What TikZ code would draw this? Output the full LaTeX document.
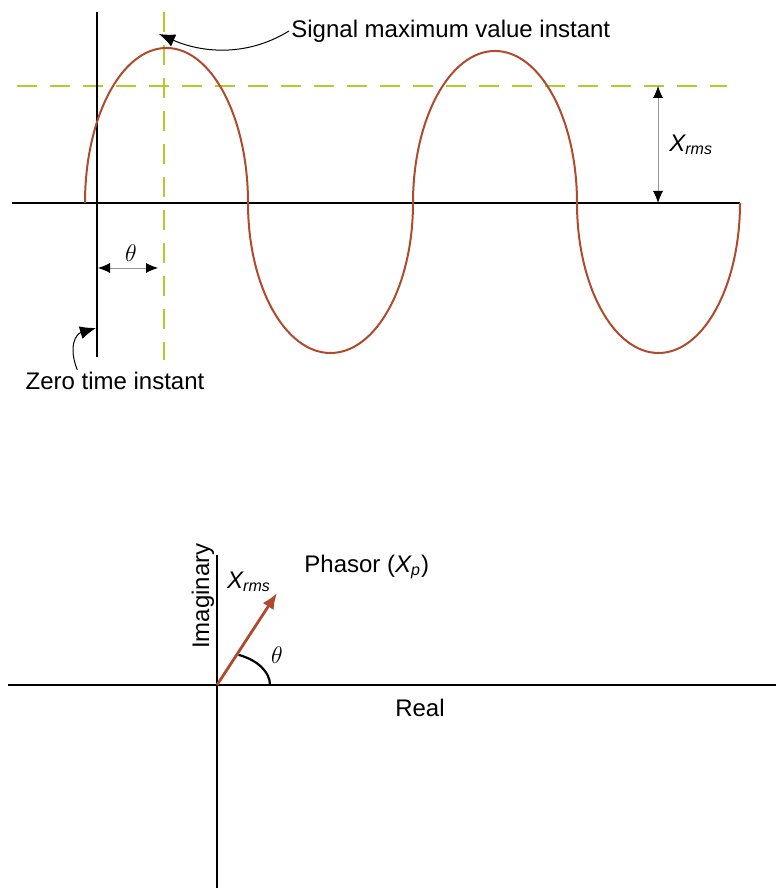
\documentclass[tikz,border=0pt]{standalone}
\usepackage{fontspec}
\setmainfont{Liberation Sans}
\usepackage{tikz}
\usetikzlibrary{arrows.meta,positioning,calc}
\definecolor{wavebrn}{RGB}{176,74,44}
\definecolor{guidegrn}{RGB}{178,204,44}
\definecolor{dimgris}{RGB}{150,150,150}
\tikzset{
  axisline/.style={draw=black, line width=1.2pt},
  waveline/.style={draw=wavebrn, line width=1pt},
  guideline/.style={draw=guidegrn, line width=1.1pt, dash pattern=on 10pt off 6.5pt},
  dimarrow/.style={{Latex[length=6pt,width=5pt,color=black]}-{Latex[length=6pt,width=5pt,color=black]}, draw=dimgris, line width=0.4pt},
  callout/.style={-{Latex[length=8pt,width=6.5pt]}, draw=black, line width=0.5pt},
  phasorarrow/.style={-{Latex[length=8pt,width=6.5pt]}, draw=wavebrn, line width=1.4pt},
  lbl/.style={inner sep=1pt, font=\fontsize{12}{14}\selectfont},
  symlbl/.style={inner sep=1pt, font=\fontsize{12}{14}\selectfont\itshape}
}

\begin{document}
\begin{tikzpicture}[x=0.5pt, y=0.5pt]
  \useasboundingbox (0,0) rectangle (776,888);

  % Time signal
  \coordinate (taxL) at (12,685);
  \coordinate (taxR) at (740,685);
  \coordinate (zeroT) at (97,876);
  \coordinate (zeroB) at (97,531);
  \coordinate (maxT) at (164,876);
  \coordinate (maxB) at (164,528);
  \coordinate (rmsL) at (17,802);
  \coordinate (rmsR) at (727,802);

  \draw[guideline] (rmsL) -- (rmsR);
  \draw[guideline] (maxT) -- (maxB);
  \draw[axisline] (taxL) -- (taxR);
  \draw[axisline] (zeroT) -- (zeroB);

  \draw[waveline] (85,685)
    arc[start angle=180, end angle=0, x radius=81.5, y radius=155]
    arc[start angle=180, end angle=360, x radius=82.5, y radius=150]
    arc[start angle=180, end angle=0, x radius=82, y radius=152]
    arc[start angle=180, end angle=360, x radius=81.5, y radius=150];

  % Dimensions
  \coordinate (xrT) at (658,802);
  \coordinate (xrB) at (658,685);
  \draw[dimarrow] (xrT) -- (xrB);
  \node[symlbl, anchor=west] (xrmsTop) at (667,743) {X\textsubscript{rms}};

  \coordinate (thL) at (98,620);
  \coordinate (thR) at (158,620);
  \draw[dimarrow] (thL) -- (thR);
  \node[lbl] (thetaTop) at (131,635) {$\theta$};

  % Callouts
  \node[lbl, anchor=west] (sigmax) at (289,857) {Signal maximum value instant};
  \coordinate (sigtip) at (159,854);
  \draw[callout] (sigmax.west) .. controls (245,830) and (200,836) .. (sigtip);

  \node[lbl] (zerot) at (115,507) {Zero time instant};
  \coordinate (zerotip) at (96,560);
  \draw[callout] ($(zerot.north west)+(54,0)$) .. controls (68,542) and (76,554) .. (zerotip);

  % Phasor plane
  \coordinate (O) at (217,203);
  \coordinate (imT) at (217,333);
  \coordinate (imB) at (217,0);
  \coordinate (reL) at (8,203);
  \coordinate (reR) at (776,203);
  \draw[axisline] (imT) -- (imB);
  \draw[axisline] (reL) -- (reR);

  \node[lbl, rotate=90] (imag) at (203,292) {Imaginary};
  \node[lbl] (real) at (420,180) {Real};

  \coordinate (ptip) at (277,295);
  \draw[phasorarrow] (O) -- (ptip);
  \draw[line width=1.1pt] ($(O)+(53,0)$) arc[start angle=0, end angle=66, x radius=53, y radius=33];
  \node[lbl] (thetaBot) at (277,233) {$\theta$};

  \node[symlbl] (xrmsBot) at (249,306) {X\textsubscript{rms}};
  \node[lbl, anchor=west] (phasor) at (302,321) {Phasor ({\itshape X\textsubscript{p}})};
\end{tikzpicture}
\end{document}
